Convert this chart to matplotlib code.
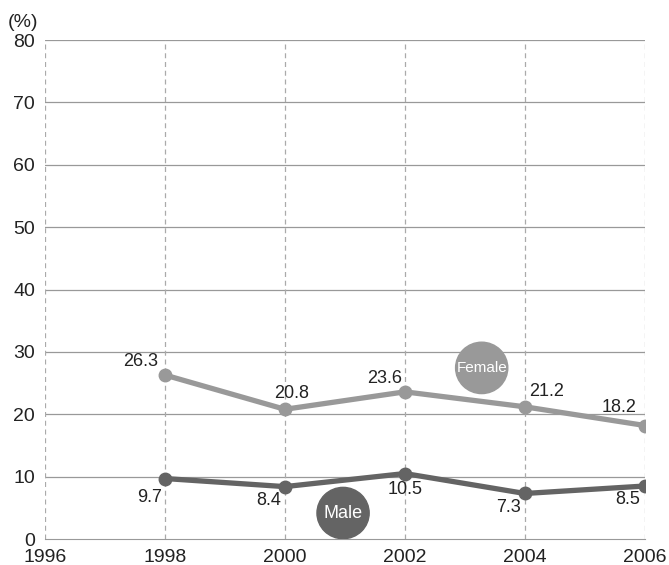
import matplotlib.pyplot as plt
from matplotlib.patches import Ellipse

years = [1998, 2000, 2002, 2004, 2006]
female = [26.3, 20.8, 23.6, 21.2, 18.2]
male = [9.7, 8.4, 10.5, 7.3, 8.5]

# label offsets in points (dx, dy) and alignment
female_off = [(-5, 9.5, 'right'), (5, 11.5, 'center'), (-2, 9.5, 'right'), (3, 11, 'left'), (-6, 13, 'right')]
male_off = [(-2, -14, 'right'), (-3, -10, 'right'), (0, -11.5, 'center'), (-3, -10, 'right'), (-3.6, -10, 'right')]

c_f = '#999999'
c_m = '#646464'

plt.rcParams['font.family'] = ['Liberation Sans', 'DejaVu Sans']

fig = plt.figure(figsize=(6.69, 5.65), dpi=100)
ax = fig.add_axes([0.067, 0.046, 0.897, 0.883])
ax.set_xlim(1996, 2006)
ax.set_ylim(0, 80)
ax.set_xticks(range(1996, 2007, 2))
ax.set_yticks(range(0, 81, 10))

for y in range(10, 81, 10):
    ax.axhline(y, color='#999999', lw=0.9, zorder=1)
for x in years + [1996]:
    ax.axvline(x, color='#aaaaaa', lw=0.9, ls=(0, (4, 3)), zorder=1)

for s in ['top', 'left', 'right']:
    ax.spines[s].set_visible(False)
ax.spines['bottom'].set_color('#999999')
ax.tick_params(axis='y', length=0, labelsize=14, colors='#222222', pad=7)
ax.tick_params(axis='x', length=0, labelsize=14, colors='#222222', pad=7)

ax.plot(years, female, color=c_f, lw=3.8, marker='o', ms=9, zorder=3)
ax.plot(years, male, color=c_m, lw=3.8, marker='o', ms=9, zorder=3)

for x, v, (dx, dy, ha) in zip(years, female, female_off):
    ax.annotate(f'{v}', (x, v), xytext=(dx, dy), textcoords='offset points',
                ha=ha, va='center', fontsize=13, color='#222222')
for x, v, (dx, dy, ha) in zip(years, male, male_off):
    ax.annotate(f'{v}', (x, v), xytext=(dx, dy), textcoords='offset points',
                ha=ha, va='center', fontsize=13, color='#222222')

# legend badges
for cx, cy, txt, col, fs in [(0.728, 0.343, 'Female', c_f, 11), (0.497, 0.052, 'Male', c_m, 13)]:
    ax.add_patch(Ellipse((cx, cy), 0.087, 0.103, transform=ax.transAxes,
                         color=col, zorder=4))
    ax.text(cx, cy, txt, transform=ax.transAxes, ha='center', va='center',
            color='white', fontsize=fs, zorder=5)

fig.text(0.012, 0.952, '(%)', fontsize=14, color='#222222')

fig.savefig('out.png', dpi=100)
